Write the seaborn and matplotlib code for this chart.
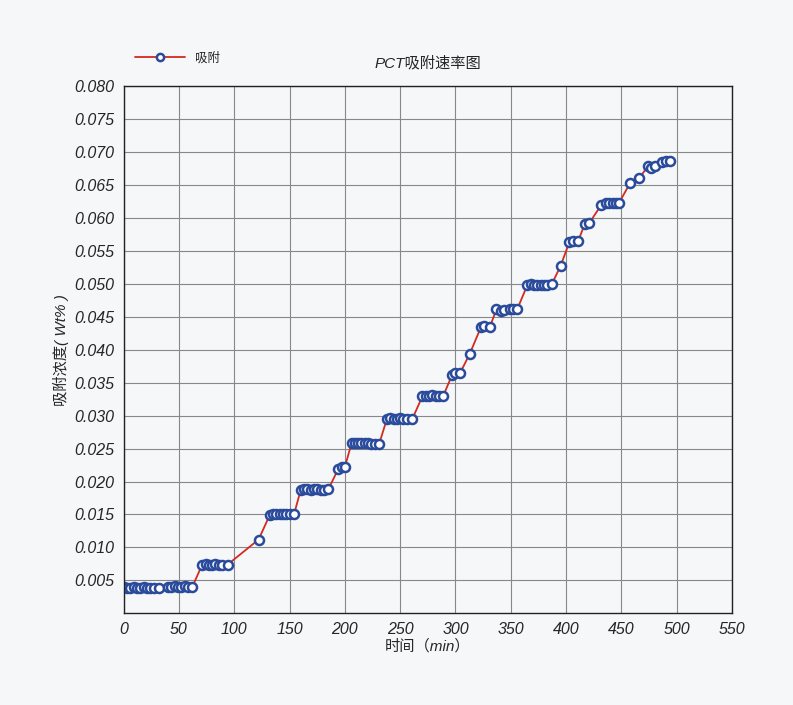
import matplotlib
matplotlib.use("Agg")
import matplotlib.pyplot as plt
import seaborn as sns
import pandas as pd

time_min = [0, 3, 6, 9, 12, 15, 18, 21, 24, 27, 32, 40, 43, 46, 49, 52, 55, 58, 62,
            71, 74, 77, 80, 83, 86, 89, 94,
            122,
            132, 135, 138, 141, 144, 147, 150, 154,
            160, 163, 166, 169, 172, 175, 178, 181, 185,
            194, 197, 200,
            206, 209, 212, 215, 218, 221, 224, 227, 231,
            238, 241, 244, 247, 250, 253, 256, 261,
            270, 273, 276, 279, 282, 285, 289,
            297, 300, 304,
            313,
            323, 326, 331,
            337, 341, 344, 349, 352, 356,
            365, 368, 371, 374, 377, 380, 383, 387,
            395,
            403, 406, 411,
            417, 421,
            432, 436, 439, 442, 445, 448,
            458, 466,
            474, 477, 480,
            487, 490, 494]
conc = [0.0040, 0.0039, 0.0039, 0.0040, 0.0039, 0.0039, 0.0040, 0.0039, 0.0039, 0.0039, 0.0039, 0.0040, 0.0040, 0.0041, 0.0040, 0.0040, 0.0041, 0.0040, 0.0040,
        0.0074, 0.0075, 0.0074, 0.0074, 0.0075, 0.0074, 0.0074, 0.0074,
        0.0112,
        0.0149, 0.0151, 0.0150, 0.0151, 0.0150, 0.0151, 0.0151, 0.0150,
        0.0187, 0.0188, 0.0188, 0.0187, 0.0188, 0.0188, 0.0187, 0.0187, 0.0188,
        0.0219, 0.0222, 0.0222,
        0.0258, 0.0258, 0.0258, 0.0258, 0.0258, 0.0258, 0.0257, 0.0257, 0.0257,
        0.0295, 0.0296, 0.0295, 0.0295, 0.0296, 0.0295, 0.0295, 0.0295,
        0.0329, 0.0330, 0.0330, 0.0331, 0.0330, 0.0329, 0.0330,
        0.0362, 0.0364, 0.0364,
        0.0394,
        0.0434, 0.0436, 0.0434,
        0.0461, 0.0459, 0.0460, 0.0462, 0.0462, 0.0462,
        0.0498, 0.0499, 0.0498, 0.0498, 0.0498, 0.0498, 0.0498, 0.0499,
        0.0527,
        0.0563, 0.0565, 0.0565,
        0.0591, 0.0592,
        0.0620, 0.0622, 0.0623, 0.0622, 0.0623, 0.0623,
        0.0653, 0.0660,
        0.0678, 0.0676, 0.0679,
        0.0684, 0.0686, 0.0686]

df = pd.DataFrame({"t": time_min, "c": conc})

sns.set_style("white")
plt.rcParams['font.family'] = ['Liberation Sans', 'Noto Sans CJK SC', 'DejaVu Sans']
bg = "#f6f7f9"
fig = plt.figure(figsize=(7.93, 7.05), dpi=100, facecolor=bg)
ax = fig.add_axes([0.156, 0.130, 0.767, 0.748], facecolor=bg)

sns.lineplot(data=df, x="t", y="c", ax=ax, color="#d42a1e", lw=1.3,
             marker="o", markersize=6.5, markerfacecolor="white",
             markeredgecolor="#2a4b9b", markeredgewidth=1.8, label="吸附")

ax.set_xlim(0, 550)
ax.set_ylim(0, 0.080)
ax.set_xticks(range(0, 551, 50))
yt = [0.005 * i for i in range(1, 17)]
ax.set_yticks(yt)
ax.set_yticklabels([f"{v:.3f}" for v in yt])
ax.tick_params(labelsize=11.5, length=3, direction="out")
for lab in ax.get_xticklabels() + ax.get_yticklabels():
    lab.set_fontstyle("italic")
ax.grid(True, color="#888888", lw=0.8)
ax.set_axisbelow(True)
for s in ax.spines.values():
    s.set_color("#222222")
    s.set_linewidth(1.0)
ax.set_xlabel("时间（min）", fontsize=11, style="italic", labelpad=1)
ax.set_ylabel("吸附浓度( Wt% )", fontsize=11, style="italic")
fig.text(0.54, 0.905, "PCT吸附速率图", ha="center", fontsize=11, style="italic")
ax.legend(loc="lower left", bbox_to_anchor=(0.0, 1.02), frameon=False, fontsize=9,
          handlelength=4, markerscale=0.8)

fig.savefig("out.png", dpi=100, facecolor=bg)
